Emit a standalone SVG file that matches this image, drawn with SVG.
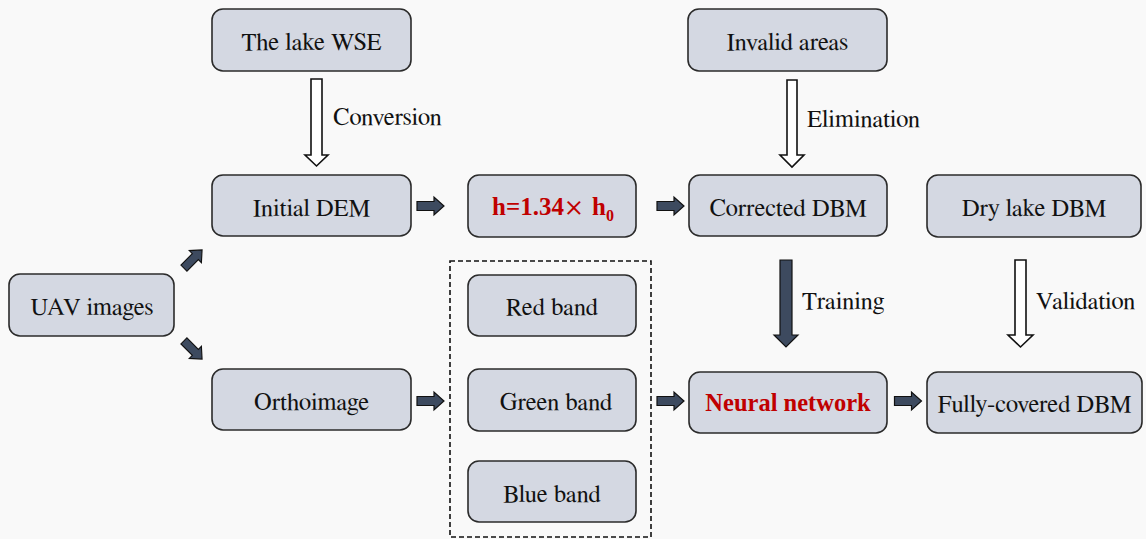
<svg xmlns="http://www.w3.org/2000/svg" width="1146" height="539" viewBox="0 0 1146 539">
  <style>
    .box { fill: #d4d8e2; stroke: #2b2b2b; stroke-width: 1.6; }
    text { font-size: 24.5px; fill: #111; }
    .lbl { text-anchor: middle; }
    .hot { fill: #c00000; font-weight: bold; font-family: 'Liberation Serif', serif; }
    .solid { fill: #3d4a5f; stroke: #111; stroke-width: 1.2; stroke-linejoin: miter; }
    .hollow { fill: #ffffff; stroke: #111; stroke-width: 1.6; }
    .group-frame { fill: none; stroke: #111; stroke-width: 1.6; stroke-dasharray: 5 3; }
  </style>
  <defs>
    <!-- short block arrow pointing right, centred on the origin -->
    <path id="blk" d="M-13.5,-4.5 H3.5 V-9 L13.5,0 L3.5,9 V4.5 H-13.5 Z"/>
  </defs>

  <rect width="1146" height="539" fill="#f9f9f9"/>

  <g id="node-lake-wse">
    <rect class="box" x="212" y="9" width="199" height="62" rx="11"/>
    <text class="lbl" x="311.5" y="50" font-family="FreeSerif">The lake WSE</text>
  </g>
  <g id="node-invalid-areas">
    <rect class="box" x="688" y="9" width="199" height="62" rx="11"/>
    <text class="lbl" x="787.5" y="50" font-family="FreeSerif">Invalid areas</text>
  </g>
  <g id="node-initial-dem">
    <rect class="box" x="212" y="175" width="199" height="61" rx="11"/>
    <text class="lbl" x="311.5" y="216" font-family="FreeSerif">Initial DEM</text>
  </g>
  <g id="node-scaling">
    <rect class="box" x="468" y="175" width="168" height="62" rx="11"/>
    <text y="215"><tspan class="hot" x="492" font-size="25px">h=1.34</tspan><tspan x="566" fill="#c00000" font-size="28px" font-family="FreeSerif">×</tspan><tspan class="hot" x="592" font-size="25px">h</tspan><tspan class="hot" x="606" dy="6" font-size="16px">0</tspan></text>
  </g>
  <g id="node-corrected-dbm">
    <rect class="box" x="689" y="175" width="198" height="61" rx="11"/>
    <text class="lbl" x="788" y="216" font-family="FreeSerif">Corrected DBM</text>
  </g>
  <g id="node-dry-lake-dbm">
    <rect class="box" x="927" y="175" width="214" height="62" rx="11"/>
    <text class="lbl" x="1034" y="216" font-family="FreeSerif">Dry lake DBM</text>
  </g>
  <g id="node-uav-images">
    <rect class="box" x="9" y="274" width="165" height="62" rx="11"/>
    <text class="lbl" x="92" y="315" font-size="25px" font-family="FreeSerif">UAV images</text>
  </g>
  <g id="node-orthoimage">
    <rect class="box" x="212" y="369" width="199" height="61" rx="11"/>
    <text class="lbl" x="311.5" y="410" font-family="FreeSerif">Orthoimage</text>
  </g>
  <g id="node-bands">
    <rect class="group-frame" x="450" y="261" width="201" height="276"/>
    <g id="node-red-band">
      <rect class="box" x="468" y="275" width="168" height="61" rx="11"/>
      <text class="lbl" x="552" y="315" font-family="FreeSerif">Red band</text>
    </g>
    <g id="node-green-band">
      <rect class="box" x="468" y="369" width="168" height="62" rx="11"/>
      <text class="lbl" x="556" y="410" font-family="FreeSerif">Green band</text>
    </g>
    <g id="node-blue-band">
      <rect class="box" x="468" y="461" width="168" height="61" rx="11"/>
      <text class="lbl" x="552" y="502" font-family="FreeSerif">Blue band</text>
    </g>
  </g>
  <g id="node-neural-network">
    <rect class="box" x="689" y="372" width="198" height="61" rx="11"/>
    <text class="lbl hot" x="788" y="411">Neural network</text>
  </g>
  <g id="node-fully-covered-dbm">
    <rect class="box" x="927" y="372" width="215" height="61" rx="11"/>
    <text class="lbl" x="1034.5" y="412" font-family="FreeSerif">Fully-covered DBM</text>
  </g>

  <g id="connectors">
    <!-- vertical hollow arrows -->
    <path class="hollow" d="M311,79 H322 V155 H328 L316.5,166 L305,155 H311 Z"/>
    <path class="hollow" d="M787,80 H797 V155 H804 L792,167 L780,155 H787 Z"/>
    <path class="hollow" d="M1015,260 H1026 V335 H1033 L1020.5,347 L1008,335 H1015 Z"/>
    <!-- vertical solid arrow -->
    <path class="solid" d="M780,260 H792 V335 H798 L786,347 L774,335 H780 Z"/>

    <!-- short block arrows -->
    <use href="#blk" class="solid" transform="translate(430.5,206)"/>
    <use href="#blk" class="solid" transform="translate(670.5,206)"/>
    <use href="#blk" class="solid" transform="translate(430.5,401)"/>
    <use href="#blk" class="solid" transform="translate(670.5,401)"/>
    <use href="#blk" class="solid" transform="translate(908,401)"/>
    <use href="#blk" class="solid" transform="translate(193,259) rotate(-45) scale(0.95)"/>
    <use href="#blk" class="solid" transform="translate(193,350) rotate(45) scale(0.95)"/>

    <text x="333" y="125" font-family="FreeSerif">Conversion</text>
    <text x="807" y="127" font-family="FreeSerif">Elimination</text>
    <text x="802" y="309" font-family="FreeSerif">Training</text>
    <text x="1036" y="309" font-family="FreeSerif">Validation</text>
  </g>
</svg>
